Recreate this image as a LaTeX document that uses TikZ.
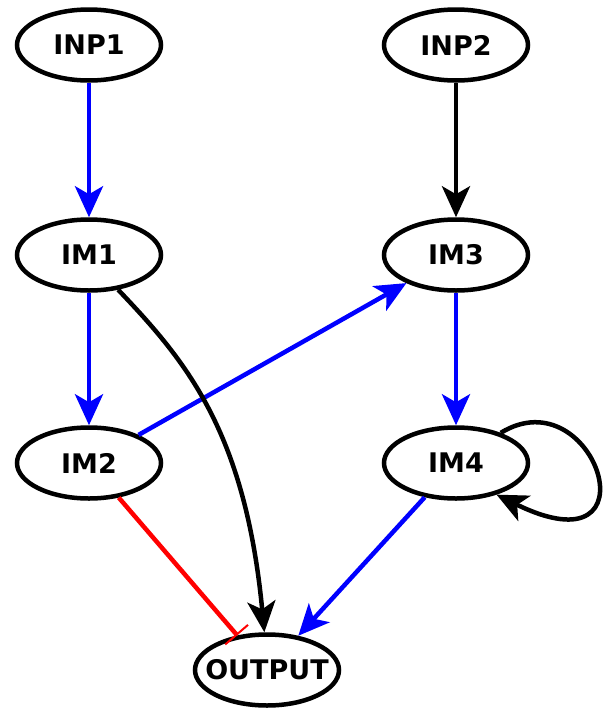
\documentclass[tikz,border=0pt]{standalone}
\usepackage{fontspec}
\setmainfont{DejaVu Sans}
\usetikzlibrary{arrows.meta,shapes.geometric}
\definecolor{actblue}{RGB}{0,0,255}
\definecolor{inhred}{RGB}{255,0,0}
\tikzset{
  species/.style={ellipse, draw=black, line width=4.5pt, fill=white,
    minimum width=144pt, minimum height=71pt, inner sep=0pt,
    font=\fontsize{27}{29}\selectfont\bfseries},
  act/.style={line width=4.5pt, -{Stealth[length=31pt,width=28pt,inset=8pt]}},
  actb/.style={act, draw=actblue},
  actk/.style={act, draw=black},
  inh/.style={line width=4.5pt, draw=inhred, -{Bar[width=30pt,line width=2pt]}}
}
\begin{document}
\begin{tikzpicture}[x=1pt,y=-1pt]
  \useasboundingbox (0,0) rectangle (608,715);
  % species
  \node[species] (inp1) at (89,45) {INP1};
  \node[species] (inp2) at (456,45) {INP2};
  \node[species] (im1) at (89,255) {IM1};
  \node[species] (im3) at (456,255) {IM3};
  \node[species] (im2) at (89,463) {IM2};
  \node[species] (im4) at (456,463) {IM4};
  \node[species] (out) at (267,670) {\makebox[0pt]{OUTPUT}};
  % interactions
  \draw[actb] (inp1) -- (im1);
  \draw[actk] (inp2) -- (im3);
  \draw[actb] (im1) -- (im2);
  \draw[actb] (im3) -- (im4);
  \draw[actb] (im2) -- (im3);
  \draw[actb] (im4) -- (out);
  \draw[inh] (im2) -- (out);
  \draw[actk] (im1.-50) .. controls (185,360) and (245,430) .. (out.94);
  \draw[actk] (im4.34) .. controls (595,375) and (660,575) .. (im4.-38);
\end{tikzpicture}
\end{document}
